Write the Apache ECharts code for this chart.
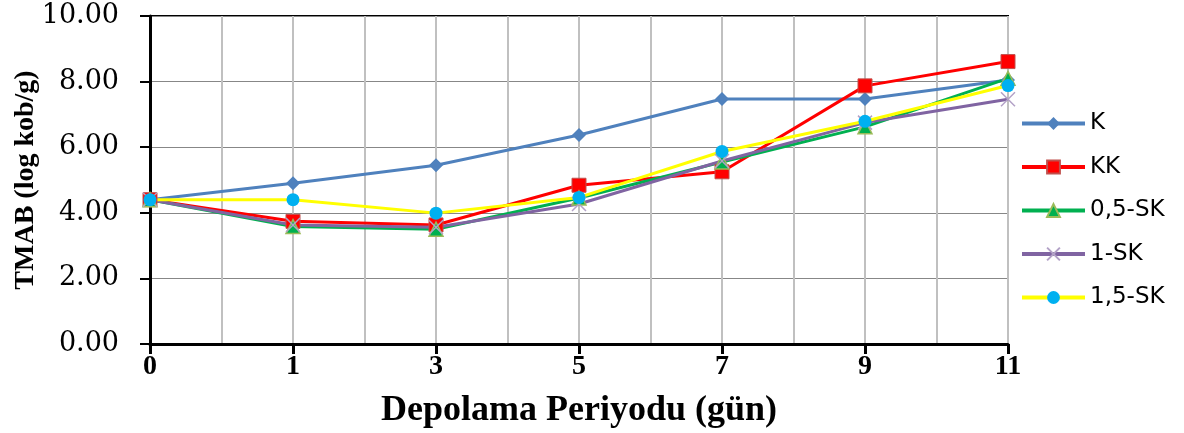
<!DOCTYPE html>
<html><head><meta charset="utf-8">
<script src="https://cdn.jsdelivr.net/npm/echarts@6/dist/echarts.min.js"></script>
<style>html,body{margin:0;padding:0;background:#fff}#c{width:1184px;height:433px}</style>
</head><body><div id="c"></div>
<script>
var categories = ['0','1','3','5','7','9','11'];
var yTicks = [0, 2, 4, 6, 8, 10];
var seriesNames = ['K','KK','0,5-SK','1-SK','1,5-SK'];
var K    = [4.40, 4.90, 5.45, 6.37, 7.47, 7.47, 8.05];
var KK   = [4.40, 3.74, 3.63, 4.84, 5.25, 7.87, 8.61];
var SK05 = [4.40, 3.58, 3.50, 4.45, 5.55, 6.62, 8.10];
var SK1  = [4.40, 3.63, 3.56, 4.27, 5.58, 6.75, 7.46];
var SK15 = [4.40, 4.40, 3.99, 4.47, 5.87, 6.79, 7.88];

function pts(arr){ return arr.map(function(v,i){ return [i, v]; }); }

var chart = echarts.init(document.getElementById('c'), null, {renderer:'canvas'});
chart.setOption({
  backgroundColor:'#fff',
  animation:false,
  grid:{left:150, right:176, top:16, bottom:89, outerBoundsMode:'none', containLabel:false,
    show:true, borderColor:'#000', borderWidth:2, backgroundColor:'transparent'},
  legend:{
    orient:'vertical', left:1015, top:107, itemWidth:63, itemHeight:16, itemGap:20.5,
    lineStyle:{width:4},
    textStyle:{fontFamily:'DejaVu Sans', fontSize:23, color:'#000', lineHeight:23},
    data:seriesNames
  },
  xAxis:{
    type:'value', min:0, max:categories.length-1, interval:1,
    axisLine:{show:true, lineStyle:{color:'#000', width:3}},
    axisTick:{show:true, length:10, lineStyle:{color:'#000', width:3}},
    axisLabel:{margin:9, fontFamily:'Liberation Serif', fontWeight:'bold', fontSize:28, color:'#000',
      formatter:function(v){ return categories[Math.round(v)]; }},
    splitLine:{show:true, lineStyle:{color:'#C0C0C0', width:2}},
    minorTick:{show:false, splitNumber:2},
    minorSplitLine:{show:true, lineStyle:{color:'#C0C0C0', width:2}},
    name:'Depolama Periyodu (gün)', nameLocation:'middle', nameGap:49, nameMoveOverlap:false,
    nameTextStyle:{fontFamily:'Liberation Serif', fontWeight:'bold', fontSize:36, color:'#000'}
  },
  yAxis:{
    type:'value', min:yTicks[0], max:yTicks[yTicks.length-1], interval:2,
    axisLine:{show:true, lineStyle:{color:'#000', width:3}},
    axisTick:{show:true, length:10, lineStyle:{color:'#000', width:2}},
    axisLabel:{margin:31, fontFamily:'DejaVu Serif', fontSize:27, color:'#000',
      formatter:function(v){ return v.toFixed(2); }},
    splitLine:{show:true, lineStyle:{color:'#878787', width:1}},
    name:'TMAB (log kob/g)', nameLocation:'middle', nameGap:110, nameRotate:90, nameMoveOverlap:false,
    nameTextStyle:{fontFamily:'Liberation Serif', fontWeight:'bold', fontSize:28, color:'#000'}
  },
  series:[
    {name:'K', type:'line', data:pts(K), symbol:'diamond', symbolSize:14,
      lineStyle:{color:'#4F81BD', width:3}, itemStyle:{color:'#4F81BD'}},
    {name:'KK', type:'line', data:pts(KK), symbol:'rect', symbolSize:14,
      lineStyle:{color:'#FF0000', width:3}, itemStyle:{color:'#FF0000', borderColor:'#C0504D', borderWidth:1}},
    {name:'0,5-SK', type:'line', data:pts(SK05), symbol:'triangle', symbolSize:14,
      lineStyle:{color:'#00B050', width:3}, itemStyle:{color:'#00B050', borderColor:'#9BBB59', borderWidth:1.5}},
    {name:'1-SK', type:'line', data:pts(SK1), symbol:'path://M0,0L10,10M10,0L0,10', symbolSize:14,
      lineStyle:{color:'#8064A2', width:3}, itemStyle:{color:'#B3A2C7', borderColor:'#B3A2C7', borderWidth:1.5}},
    {name:'1,5-SK', type:'line', data:pts(SK15), symbol:'circle', symbolSize:13,
      lineStyle:{color:'#FFFF00', width:3}, itemStyle:{color:'#00B0F0'}}
  ]
});
</script></body></html>
